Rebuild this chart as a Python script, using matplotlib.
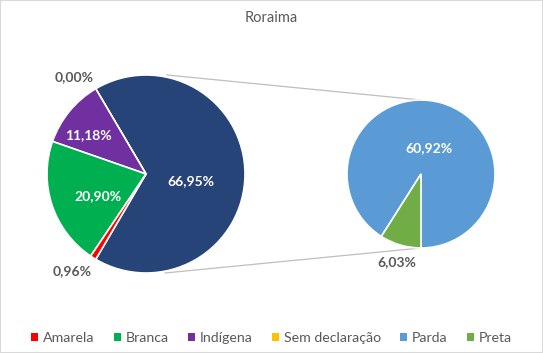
import numpy as np
import matplotlib
matplotlib.use("Agg")
import matplotlib.pyplot as plt
from matplotlib.patches import Patch, Rectangle

plt.rcParams['font.family'] = ['Lato', 'DejaVu Sans']

# dados (%)
main_labels = ['Amarela', 'Branca', 'Indígena', 'Sem declaração']
main_values = [0.96, 20.90, 11.18, 0.00]
other_labels = ['Parda', 'Preta']
other_values = [60.92, 6.03]

colors = {'Amarela': '#FF0000', 'Branca': '#00B050', 'Indígena': '#7030A0',
          'Sem declaração': '#FFC000', 'Parda': '#5B9BD5', 'Preta': '#70AD47'}
other_color = '#264478'
grey = '#595959'

W, H = 543, 353
fig = plt.figure(figsize=(W / 100, H / 100), dpi=100)
ax = fig.add_axes([0, 0, 1, 1])

# pizza principal (ordem anti-horária a partir da fatia "outros")
other_total = sum(other_values)
left_vals = [other_total] + main_values[::-1]
left_cols = [other_color] + [colors[l] for l in main_labels[::-1]]
c1, r1 = (146, H - 174), 99
start1 = -other_total / 100 * 360 / 2
w1, _ = ax.pie(left_vals, colors=left_cols, startangle=start1, counterclock=True,
               center=c1, radius=r1, frame=True,
               wedgeprops=dict(edgecolor='white', linewidth=1.2))

# pizza secundária
c2, r2 = (421, H - 174), 74
w2, _ = ax.pie(other_values, colors=[colors[l] for l in other_labels], startangle=-90,
               counterclock=True, center=c2, radius=r2, frame=True,
               wedgeprops=dict(edgecolor='white', linewidth=1.2))
ax.set_xlim(0, W)
ax.set_ylim(0, H)
ax.set_axis_off()


def put_label(wedge, c, r, val, dist, inside, dang=0):
    ang = np.deg2rad((wedge.theta1 + wedge.theta2) / 2 + dang)
    x = c[0] + dist * r * np.cos(ang)
    y = c[1] + dist * r * np.sin(ang)
    txt = f'{val:.2f}%'.replace('.', ',')
    ax.text(x, y, txt, ha='center', va='center', fontsize=10, fontweight='bold',
            color='white' if inside else grey)


# rótulos: (distância relativa, dentro?, ajuste de ângulo)
left_lab_pos = [(0.46, True, -9), (1.22, False, 6), (0.70, True, 5), (0.53, True, 6), (1.23, False, -5)]
for wd, v, p in zip(w1, left_vals, left_lab_pos):
    put_label(wd, c1, r1, v, *p)
right_lab_pos = [(0.37, True, 0), (1.23, False, 1)]
for wd, v, p in zip(w2, other_values, right_lab_pos):
    put_label(wd, c2, r2, v, *p)

# linhas de ligação
ax.plot([167, 421], [H - 75, H - 100], color='#BFBFBF', lw=0.9, zorder=0)
ax.plot([165, 421], [H - 273, H - 248], color='#BFBFBF', lw=0.9, zorder=0)

ax.text(W / 2, H - 18, 'Roraima', ha='center', va='center', fontsize=10.5, color=grey)

handles = [Patch(facecolor=colors[l], edgecolor='none') for l in main_labels + other_labels]
fig.legend(handles, main_labels + other_labels, loc='center', bbox_to_anchor=(0.5, 1 - 338 / H),
           ncol=6, frameon=False, fontsize=10.2, labelcolor=grey, handlelength=0.5,
           handleheight=0.5, handletextpad=0.35, columnspacing=1.35)

fig.add_artist(Rectangle((0, 0), 1, 1, transform=fig.transFigure, fill=False,
                         edgecolor='#D9D9D9', lw=1.5))

fig.savefig('out.png', dpi=100, facecolor='white')
